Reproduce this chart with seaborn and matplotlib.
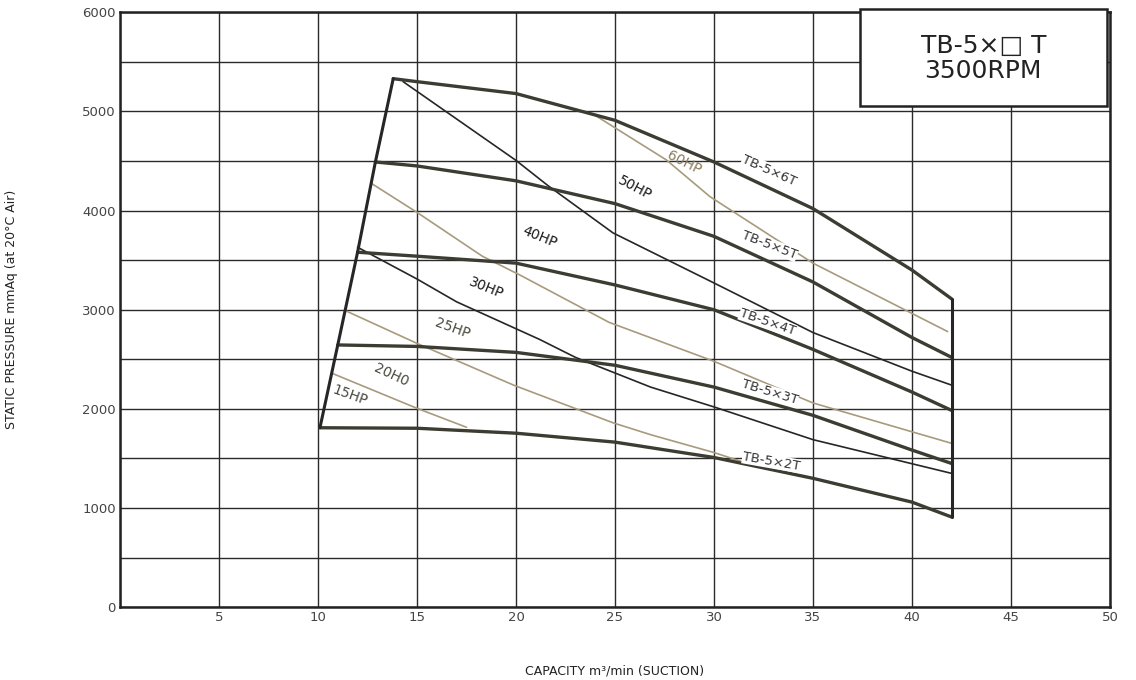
import seaborn as sns
import matplotlib.pyplot as plt
import pandas as pd

# fan curves TB-5 x nT, 3500 RPM  (capacity m3/min, static pressure mmAq)
q_6t = [13.8, 15, 20, 25, 30, 35, 40, 42]
p_6t = [5330, 5300, 5180, 4910, 4490, 4020, 3400, 3110]
q_5t = [12.9, 15, 20, 25, 30, 35, 40, 42]
p_5t = [4490, 4450, 4300, 4070, 3740, 3280, 2720, 2520]
q_4t = [12.0, 15, 20, 25, 30, 35, 40, 42]
p_4t = [3580, 3540, 3470, 3250, 3000, 2600, 2170, 1985]
q_3t = [11.0, 15, 20, 25, 30, 35, 40, 42]
p_3t = [2645, 2630, 2570, 2440, 2220, 1935, 1585, 1450]
q_2t = [10.1, 15, 20, 25, 30, 35, 40, 42]
p_2t = [1810, 1805, 1755, 1665, 1510, 1300, 1060, 910]

# motor power lines
q_hp1 = [10.7, 15, 17.5]
p_hp1 = [2360, 2006, 1815]
q_hp2 = [11.35, 15, 19.9, 21.2, 24.9, 26.8, 30, 32]
p_hp2 = [2994, 2661, 2238, 2140, 1860, 1740, 1560, 1430]
q_hp3 = [12.0, 15, 17, 21.2, 23, 26.8, 30, 35, 42]
p_hp3 = [3630, 3310, 3080, 2700, 2520, 2220, 2020, 1690, 1350]
q_hp4 = [12.7, 15, 18.3, 20.2, 24.7, 30, 35, 42]
p_hp4 = [4274, 3982, 3540, 3350, 2873, 2480, 2060, 1653]
q_hp5 = [14.3, 20, 21.6, 24.9, 30, 35, 40, 42]
p_hp5 = [5300, 4506, 4254, 3775, 3270, 2770, 2380, 2240]
q_hp6 = [24, 27.6, 29.8, 35, 41.8]
p_hp6 = [4960, 4510, 4140, 3470, 2780]

curve_names = ['TB-5×6T', 'TB-5×5T', 'TB-5×4T', 'TB-5×3T', 'TB-5×2T']
curve_label_q = [32.8, 32.8, 32.7, 32.8, 32.9]
curve_label_p = [4405, 3650, 2873, 2167, 1470]
curve_label_rot = [-24, -21, -19, -17, -10]

hp_names = ['60HP', '50HP', '40HP', '30HP', '25HP', '20H0', '15HP']
hp_label_q = [28.5, 26.0, 21.2, 18.5, 16.8, 13.7, 11.6]
hp_label_p = [4486, 4224, 3730, 3216, 2812, 2339, 2137]
hp_label_rot = [-27, -28, -22, -22, -20, -25, -20]

sns.set_style('white')
plt.rcParams['font.family'] = ['DejaVu Sans']

fig = plt.figure(figsize=(11.36, 6.8), dpi=100)
ax = fig.add_axes([0.1056, 0.107, 0.8715, 0.875])

dark = '#262626'
olive = '#3c3c33'
tan = '#a89a7c'

curves = [(q_6t, p_6t), (q_5t, p_5t), (q_4t, p_4t), (q_3t, p_3t), (q_2t, p_2t)]
for q, p in curves:
    df = pd.DataFrame({'q': q, 'p': p})
    sns.lineplot(data=df, x='q', y='p', ax=ax, sort=False, estimator=None,
                 color=olive, linewidth=2.4, zorder=4)

# outer boundaries of the operating range
left_q = [c[0][0] for c in curves]
left_p = [c[1][0] for c in curves]
right_q = [c[0][-1] for c in curves]
right_p = [c[1][-1] for c in curves]
sns.lineplot(x=left_q, y=left_p, ax=ax, sort=False, estimator=None,
             color=dark, linewidth=2.2, zorder=4)
sns.lineplot(x=right_q, y=right_p, ax=ax, sort=False, estimator=None,
             color=dark, linewidth=2.2, zorder=4)

hp_lines = [(q_hp1, p_hp1, tan), (q_hp2, p_hp2, tan), (q_hp3, p_hp3, dark),
            (q_hp4, p_hp4, tan), (q_hp5, p_hp5, dark), (q_hp6, p_hp6, tan)]
for q, p, c in hp_lines:
    sns.lineplot(x=q, y=p, ax=ax, sort=False, estimator=None,
                 color=c, linewidth=1.2, zorder=3)

for name, x, y, r in zip(curve_names, curve_label_q, curve_label_p, curve_label_rot):
    ax.text(x, y, name, rotation=r, ha='center', va='center', fontsize=9.5,
            color='#333333', zorder=6,
            bbox=dict(facecolor='white', edgecolor='none', pad=0.3))

for i, (name, x, y, r) in enumerate(zip(hp_names, hp_label_q, hp_label_p, hp_label_rot)):
    col = '#8a7a5c' if i == 0 else ('#4a4a40' if name in ('25HP', '20H0', '15HP') else '#1a1a1a')
    ax.text(x, y, name, rotation=r, ha='center', va='center', fontsize=10,
            color=col, zorder=6)

# title box
ax.text(0.872, 0.922, 'TB-5×□ T\n3500RPM', transform=ax.transAxes,
        ha='center', va='center', fontsize=18, color='#222222',
        linespacing=1.05, zorder=10)
box = plt.Rectangle((0.747, 0.842), 0.25, 0.164, transform=ax.transAxes,
                    facecolor='white', edgecolor='#222222', linewidth=1.8,
                    zorder=9, clip_on=False)
ax.add_patch(box)

ax.set_xlim(0, 50)
ax.set_ylim(0, 6000)
ax.set_xticks(range(5, 51, 5))
ax.set_yticks(range(0, 6001, 1000))
ax.set_xticks(range(0, 51, 5), minor=True)
ax.set_yticks(range(0, 6001, 500), minor=True)
ax.grid(True, which='both', color='#2a2a2a', linewidth=1.0, zorder=1)
ax.set_axisbelow(True)
ax.tick_params(axis='both', which='both', length=0, labelsize=9.5,
               labelcolor='#444444', pad=3)
for s in ax.spines.values():
    s.set_visible(True)
    s.set_color('#222222')
    s.set_linewidth(1.8)

ax.set_xlabel('CAPACITY m³/min (SUCTION)', fontsize=9, color='#222222')
ax.set_ylabel('STATIC PRESSURE mmAq (at 20°C Air)', fontsize=9, color='#222222')
ax.xaxis.set_label_coords(0.5, -0.096)
ax.yaxis.set_label_coords(-0.103, 0.5)

fig.savefig('out.png', dpi=100)
